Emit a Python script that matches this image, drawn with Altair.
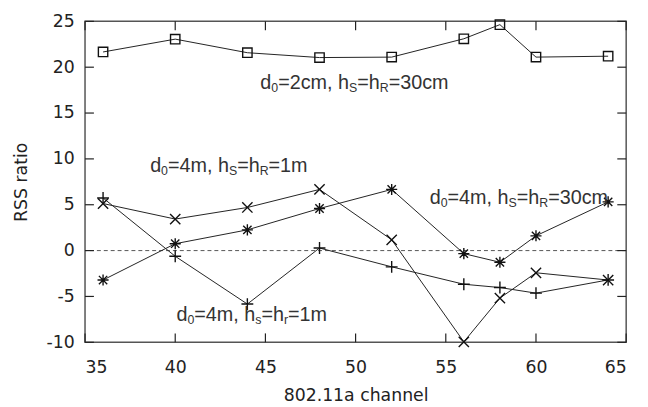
import altair as alt
import pandas as pd

# ---------------- data ----------------
channels = [36, 40, 44, 48, 52, 56, 58, 60, 64]
rss_2cm_30cm = [21.66, 23.06, 21.58, 21.05, 21.1, 23.1, 24.64, 21.1, 21.2]      # squares
rss_4m_1m_a = [5.13, 3.44, 4.70, 6.67, 1.18, -9.95, -5.18, -2.42, -3.21]        # x markers
rss_4m_30cm = [-3.21, 0.75, 2.26, 4.59, 6.67, -0.33, -1.27, 1.61, 5.31]         # asterisks
rss_4m_1m_b = [5.74, -0.62, -5.83, 0.28, -1.77, -3.67, -4.03, -4.64, -3.2]      # plus

series_names = ["sq", "x", "ast", "plus"]
series_values = [rss_2cm_30cm, rss_4m_1m_a, rss_4m_30cm, rss_4m_1m_b]

x_ticks = [35, 40, 45, 50, 55, 60, 65]
y_ticks = [-10, -5, 0, 5, 10, 15, 20, 25]

# annotation labels: (x of left edge, y of baseline, pieces [(text, is_subscript)])
labels = [
    (44.72, 17.6, [("d", 0), ("0", 1), ("=2cm, h", 0), ("S", 1), ("=h", 0), ("R", 1), ("=30cm", 0)]),
    (38.61, 8.62, [("d", 0), ("0", 1), ("=4m, h", 0), ("S", 1), ("=h", 0), ("R", 1), ("=1m", 0)]),
    (54.11, 5.13, [("d", 0), ("0", 1), ("=4m, h", 0), ("S", 1), ("=h", 0), ("R", 1), ("=30cm", 0)]),
    (40.07, -7.63, [("d", 0), ("0", 1), ("=4m, h", 0), ("s", 1), ("=h", 0), ("r", 1), ("=1m", 0)]),
]

# ---------------- layout / style ----------------
W, H = 548, 325
XDOM = [35, 65]
YDOM = [-10, 25]
FS_MAIN, FS_SUB = 20, 12.5
SUB_SHIFT_PX = 3
TICK_LEN = 9
INK = "#222222"

# Liberation Sans (Arial metrics) advance widths, em units
adv = {"d": .556, "=": .584, "c": .5, "m": .833, ",": .278, " ": .278, "h": .556,
       "S": .667, "R": .722, "s": .5, "r": .333}
for ch in "0123456789":
    adv[ch] = .556

px_per_x = W / (XDOM[1] - XDOM[0])
px_per_y = H / (YDOM[1] - YDOM[0])

rows = []
for lx, ly, pieces in labels:
    off = 0.0
    for txt, sub in pieces:
        fs = FS_SUB if sub else FS_MAIN
        rows.append({
            "x": lx + off / px_per_x,
            "y": ly - (SUB_SHIFT_PX / px_per_y if sub else 0.0),
            "t": txt,
            "fs": fs,
        })
        off += sum(adv.get(c, .556) for c in txt) * fs
text_df = pd.DataFrame(rows)

df = pd.DataFrame([
    {"channel": c, "rss": v, "series": name}
    for name, vals in zip(series_names, series_values)
    for c, v in zip(channels, vals)
])

xs = alt.Scale(domain=XDOM, nice=False, zero=False)
ys = alt.Scale(domain=YDOM, nice=False, zero=False)

x_axis = alt.Axis(values=x_ticks, title="802.11a channel", ticks=False, tickSize=0,
                  domain=False, grid=False, labelPadding=17, titlePadding=10,
                  labelExpr="'' + datum.value")
y_axis = alt.Axis(values=y_ticks, title="RSS ratio", ticks=False, tickSize=0,
                  domain=False, grid=False, labelPadding=11, titlePadding=16,
                  labelExpr="'' + datum.value")

base = alt.Chart(df)

zero_line = alt.Chart(pd.DataFrame({"v": [0]})).mark_rule(
    color="#555555", strokeDash=[4, 3], strokeWidth=1
).encode(y=alt.Y("v:Q", scale=ys, axis=y_axis))

lines = base.mark_line(color=INK, strokeWidth=1).encode(
    x=alt.X("channel:Q", scale=xs, axis=x_axis),
    y=alt.Y("rss:Q", scale=ys, axis=y_axis),
    detail="series:N",
)

shape_paths = [
    "M-1,-1L1,-1L1,1L-1,1Z",
    "M-1,-1L1,1M-1,1L1,-1",
    "M-1,0L1,0M0,-1L0,1M-0.75,-0.75L0.75,0.75M-0.75,0.75L0.75,-0.75",
    "M-1,0L1,0M0,-1L0,1",
]
shape_sizes = [90, 144, 144, 144]

points = base.mark_point(filled=False, color="#111111", strokeWidth=1.4, opacity=1).encode(
    x=alt.X("channel:Q", scale=xs),
    y=alt.Y("rss:Q", scale=ys),
    shape=alt.Shape("series:N", scale=alt.Scale(domain=series_names, range=shape_paths), legend=None),
    size=alt.Size("series:N", scale=alt.Scale(domain=series_names, range=shape_sizes), legend=None),
)

xt_df = pd.DataFrame({"t": x_ticks})
yt_df = pd.DataFrame({"t": y_ticks})
tick_style = dict(color=INK, strokeWidth=1.2)
xt_bottom = alt.Chart(xt_df).mark_rule(**tick_style).encode(
    x=alt.X("t:Q", scale=xs), y=alt.value(H), y2=alt.value(H - TICK_LEN))
xt_top = alt.Chart(xt_df).mark_rule(**tick_style).encode(
    x=alt.X("t:Q", scale=xs), y=alt.value(0), y2=alt.value(TICK_LEN))
yt_left = alt.Chart(yt_df).mark_rule(**tick_style).encode(
    y=alt.Y("t:Q", scale=ys), x=alt.value(0), x2=alt.value(TICK_LEN))
yt_right = alt.Chart(yt_df).mark_rule(**tick_style).encode(
    y=alt.Y("t:Q", scale=ys), x=alt.value(W - TICK_LEN), x2=alt.value(W))

texts = alt.Chart(text_df).mark_text(
    align="left", baseline="alphabetic", font="Liberation Sans", color="#333333"
).encode(
    x=alt.X("x:Q", scale=xs),
    y=alt.Y("y:Q", scale=ys),
    text="t:N",
    size=alt.Size("fs:Q", scale=None),
)

chart = alt.layer(
    zero_line, lines, points, xt_bottom, xt_top, yt_left, yt_right, texts
).properties(
    width=W, height=H,
    autosize=alt.AutoSizeParams(type="none"),
    padding={"left": 78, "top": 11, "right": 14, "bottom": 62},
).configure_view(
    stroke="#555555", strokeWidth=1.5
).configure_axis(
    labelFont="DejaVu Sans", labelFontSize=17.5, labelColor=INK,
    titleFont="DejaVu Sans", titleFontSize=17.5, titleFontWeight="normal", titleColor=INK,
)

chart.save("out.html", embed_options={"renderer": "svg", "actions": False})
